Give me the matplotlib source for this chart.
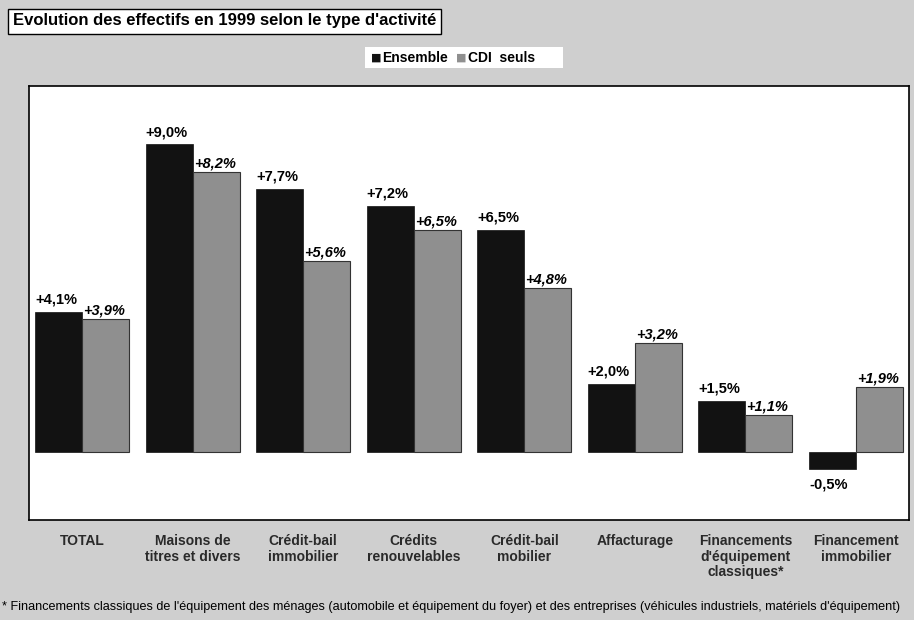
import matplotlib.pyplot as plt
from matplotlib.patches import Rectangle
import numpy as np

plt.rcParams['font.family'] = ['Liberation Sans', 'DejaVu Sans']

# Data
categories = ["TOTAL", "Maisons de\ntitres et divers", "Crédit-bail\nimmobilier",
              "Crédits\nrenouvelables", "Crédit-bail\nmobilier", "Affacturage",
              "Financements\nd'équipement\nclassiques*", "Financement\nimmobilier"]
ensemble = [4.1, 9.0, 7.7, 7.2, 6.5, 2.0, 1.5, -0.5]
cdi_seuls = [3.9, 8.2, 5.6, 6.5, 4.8, 3.2, 1.1, 1.9]


def fmt(v):
    return ("+" if v >= 0 else "") + f"{v:.1f}".replace(".", ",") + "%"


bg = '#cfcfcf'
dark = '#121212'
grey = '#8f8f8f'

fig = plt.figure(figsize=(9.14, 6.2), dpi=100)
fig.patch.set_facecolor(bg)

ax = fig.add_axes([29 / 914, 100 / 620, 880 / 914, 434 / 620])
ax.set_facecolor('white')

x = np.arange(len(categories))
w = 0.425
ax.bar(x - w / 2, ensemble, w, color=dark, edgecolor=dark, linewidth=0.5)
ax.bar(x + w / 2, cdi_seuls, w, color=grey, edgecolor='#333333', linewidth=0.8)

for i in range(len(categories)):
    e = ensemble[i]
    c = cdi_seuls[i]
    if e >= 0:
        ax.text(x[i] - w, e + 0.15, fmt(e), ha='left', va='bottom',
                fontsize=10.5, fontweight='bold')
    else:
        ax.text(x[i] - w, e - 0.25, fmt(e), ha='left', va='top',
                fontsize=10.5, fontweight='bold')
    ax.text(x[i] + 0.01, c + 0.04, fmt(c), ha='left', va='bottom',
            fontsize=10.5, fontweight='bold', fontstyle='italic')

ax.set_xlim(-0.48, 7.48)
ax.set_ylim(-1.98, 10.7)
ax.set_xticks([])
ax.set_yticks([])
for s in ax.spines.values():
    s.set_linewidth(1.2)

# category labels below the plot area
for i, cat in enumerate(categories):
    xf = (29 + (x[i] + 0.48) / 7.96 * 880) / 914
    fig.text(xf, 1 - 534 / 620, cat, ha='center', va='top', fontsize=10,
             fontweight='bold', color='#2a2a2a', linespacing=1.15)

# title box
fig.text(13 / 914, 1 - 21 / 620, "Evolution des effectifs en 1999 selon le type d'activité",
         ha='left', va='center', fontsize=12, fontweight='bold',
         bbox=dict(boxstyle='square,pad=0.3', facecolor='white', edgecolor='black', linewidth=1))

# legend
fig.patches.append(Rectangle((365 / 914, 1 - 68 / 620), 198 / 914, 21 / 620,
                             transform=fig.transFigure, facecolor='white', edgecolor='none'))
fig.text(371 / 914, 1 - 58 / 620, "■", color=dark, fontsize=8, va='center', ha='left',
         family=['DejaVu Sans'])
fig.text(382 / 914, 1 - 58 / 620, "Ensemble", fontsize=10, va='center', ha='left',
         fontweight='bold')
fig.text(456 / 914, 1 - 58 / 620, "■", color=grey, fontsize=8, va='center', ha='left',
         family=['DejaVu Sans'])
fig.text(468 / 914, 1 - 58 / 620, "CDI  seuls", fontsize=10, va='center', ha='left',
         fontweight='bold')

# footnote
fig.text(2 / 914, 1 - 607 / 620,
         "* Financements classiques de l'équipement des ménages (automobile et équipement du foyer) "
         "et des entreprises (véhicules industriels, matériels d'équipement)",
         ha='left', va='center', fontsize=9.1)

fig.savefig('out.png', dpi=100, facecolor=bg)
